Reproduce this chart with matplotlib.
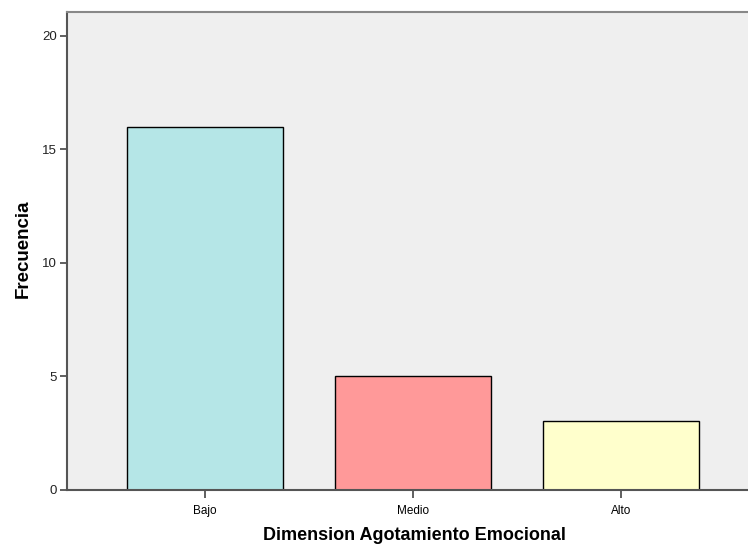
import matplotlib.pyplot as plt

# Datos del grafico
categorias = ['Bajo', 'Medio', 'Alto']
frecuencias = [16, 5, 3]
colores = ['#b5e6e7', '#ff9999', '#ffffcc']
yticks = [0, 5, 10, 15, 20]

plt.rcParams['font.family'] = ['Liberation Sans', 'DejaVu Sans']

fig = plt.figure(figsize=(7.48, 5.46), dpi=100)
ax = fig.add_axes([67 / 748, 1 - 489.5 / 546, 1 - 67 / 748, (489.5 - 12) / 546])
ax.set_facecolor('#efefef')

x = list(range(len(categorias)))
ax.bar(x, frecuencias, width=0.75, color=colores, edgecolor='black', linewidth=1.0, zorder=2)

ax.set_xlim(-0.663, 2.61)
ax.set_ylim(0, 21.05)
ax.set_xticks(x)
ax.set_xticklabels(categorias, fontsize=8.5)
ax.set_yticks(yticks)
ax.set_yticklabels([str(v) for v in yticks], fontsize=9.5, color='#222222')

for side in ['left', 'bottom']:
    ax.spines[side].set_color('#555555')
    ax.spines[side].set_linewidth(1.5)
ax.spines['top'].set_color('#888888')
ax.spines['top'].set_linewidth(1.5)
ax.spines['right'].set_visible(False)

ax.tick_params(axis='y', direction='out', length=5, width=1.2, color='#444444', pad=2)
ax.tick_params(axis='x', direction='out', length=6, width=1.2, color='#444444', pad=5)

# etiquetas de los ejes en posicion fija (pixeles de la imagen)
fig.text(414 / 748, 1 - 536 / 546, 'Dimension Agotamiento Emocional', fontsize=13,
         fontweight='bold', ha='center', va='center')
fig.text(23 / 748, 1 - 249 / 546, 'Frecuencia', fontsize=13.5, fontweight='bold',
         rotation=90, ha='center', va='center')

fig.savefig('out.png', dpi=100)
